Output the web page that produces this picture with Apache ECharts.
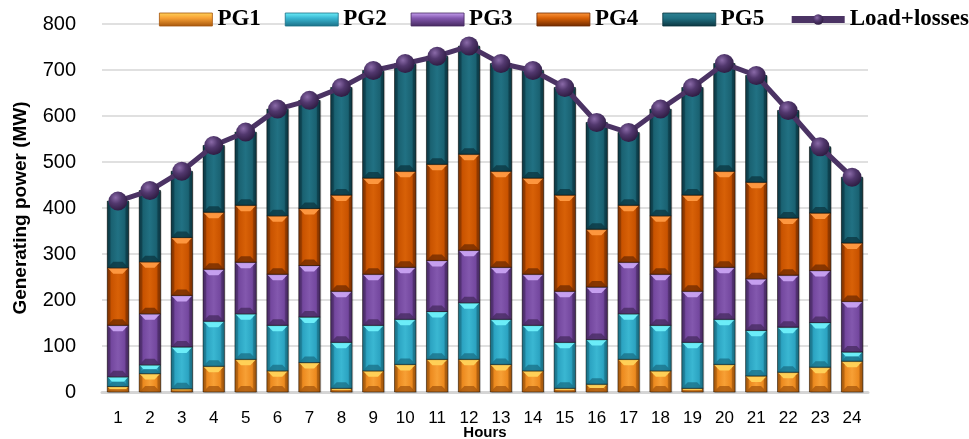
<!DOCTYPE html>
<html>
<head>
<meta charset="utf-8">
<title>Generating power schedule</title>
<script src="https://cdn.jsdelivr.net/npm/echarts@6/dist/echarts.min.js"></script>
<style>
  html, body { margin: 0; padding: 0; background: #ffffff; }
  #chart { width: 969px; height: 439px; }
</style>
</head>
<body>
<div id="chart"></div>
<script>
// Hourly dispatch of the five generating units (MW)
const hours = ['1','2','3','4','5','6','7','8','9','10','11','12',
               '13','14','15','16','17','18','19','20','21','22','23','24'];
const pg1 = [12, 40, 7, 56, 71, 46, 64, 8, 46, 60, 71, 71, 60, 46, 8, 17, 71, 46, 8, 60, 35, 43, 54, 67];
const pg2 = [21, 19, 91, 98, 99, 99, 99, 100, 99, 98, 104, 123, 98, 99, 100, 97, 99, 99, 100, 98, 99, 98, 97, 20];
const pg3 = [112, 111, 112, 113, 112, 111, 112, 111, 111, 113, 111, 114, 113, 111, 111, 114, 112, 111, 111, 113, 112, 113, 113, 110];
const pg4 = [125, 113, 126, 124, 124, 127, 124, 209, 209, 209, 209, 209, 209, 209, 209, 126, 124, 127, 209, 209, 210, 124, 125, 127];
const pg5 = [145, 155, 144, 145, 159, 232, 235, 234, 234, 234, 235, 235, 234, 234, 234, 232, 158, 232, 234, 234, 232, 234, 144, 143];
// Demand plus transmission losses (MW)
const loadLosses = [415, 438, 480, 536, 565, 615, 634, 662, 699, 714, 730, 752,
                    714, 699, 662, 586, 564, 615, 662, 714, 688, 612, 533, 467];
const yTicks = { min: 0, max: 800, interval: 100 };

const units = [
  { name: 'PG1', data: pg1, edge: '#a0550b', mid: '#ec8a1f', light: '#f7a035', top: '#ffd35a', bottom: '#a5560c' },
  { name: 'PG2', data: pg2, edge: '#196f85', mid: '#2ca4c2', light: '#3ab7d2', top: '#6ff0fa', bottom: '#1a6f86' },
  { name: 'PG3', data: pg3, edge: '#472a63', mid: '#74489f', light: '#8358ae', top: '#c9a3f2', bottom: '#45295f' },
  { name: 'PG4', data: pg4, edge: '#7e3200', mid: '#c95300', light: '#d86107', top: '#ff9a42', bottom: '#6e2a00' },
  { name: 'PG5', data: pg5, edge: '#0b3844', mid: '#1a6272', light: '#217183', top: '#2f8293', bottom: '#0b3640' }
];

// Stack the units: each item is [hour index, segment bottom, segment top]
const running = hours.map(() => 0);
units.forEach(u => {
  u.items = u.data.map((v, i) => {
    const base = running[i];
    running[i] = base + v;
    return [i, base, base + v];
  });
});

function bodyFill(u) {
  return new echarts.graphic.LinearGradient(0, 0, 1, 0, [
    { offset: 0, color: u.edge },
    { offset: 0.2, color: u.mid },
    { offset: 0.5, color: u.light },
    { offset: 0.8, color: u.mid },
    { offset: 1, color: u.edge }
  ]);
}
function keyFill(u) {
  return new echarts.graphic.LinearGradient(0, 0, 0, 1, [
    { offset: 0, color: u.top },
    { offset: 0.4, color: u.light },
    { offset: 1, color: u.bottom }
  ]);
}

// Bevelled column segment drawn through the axes
function bevelRenderer(u) {
  const fill = bodyFill(u);
  return function (params, api) {
    const idx = api.value(0);
    const pBase = api.coord([idx, api.value(1)]);
    const pTop = api.coord([idx, api.value(2)]);
    const w = api.size([1, 0])[0] * 0.67;
    const x0 = pBase[0] - w / 2, x1 = pBase[0] + w / 2;
    const yb = pBase[1], yt = pTop[1];
    const h = yb - yt;
    if (h <= 0) return null;
    const b = Math.min(6, h / 2, w / 2);
    return {
      type: 'group',
      children: [
        { type: 'rect', shape: { x: x0 + 1.2, y: yt + 1, width: w, height: h },
          style: { fill: 'rgba(0,0,0,0.16)' } },
        { type: 'rect', shape: { x: x0, y: yt, width: w, height: h },
          style: { fill: fill } },
        { type: 'polygon', shape: { points: [[x0, yt], [x1, yt], [x1 - b, yt + b], [x0 + b, yt + b]] },
          style: { fill: u.top, opacity: 0.95 } },
        { type: 'polygon', shape: { points: [[x0, yb], [x1, yb], [x1 - b, yb - b], [x0 + b, yb - b]] },
          style: { fill: u.bottom, opacity: 0.75 } },
        { type: 'polygon', shape: { points: [[x0, yt], [x0 + b * 0.5, yt + b * 0.5], [x0 + b * 0.5, yb - b * 0.5], [x0, yb]] },
          style: { fill: u.edge, opacity: 0.5 } },
        { type: 'polygon', shape: { points: [[x1, yt], [x1 - b * 0.5, yt + b * 0.5], [x1 - b * 0.5, yb - b * 0.5], [x1, yb]] },
          style: { fill: u.edge, opacity: 0.6 } },
        { type: 'rect', shape: { x: x0, y: yt, width: w, height: h },
          style: { fill: null, stroke: 'rgba(15,8,0,0.6)', lineWidth: 0.8 } }
      ]
    };
  };
}

const series = units.map(u => ({
  name: u.name,
  type: 'custom',
  renderItem: bevelRenderer(u),
  data: u.items,
  encode: { x: 0, y: [1, 2] },
  itemStyle: { color: u.mid },
  emphasis: { disabled: true }
}));

series.push({
  name: 'Load+losses',
  type: 'line',
  data: loadLosses,
  z: 5,
  symbol: 'circle',
  symbolSize: 19,
  lineStyle: { color: '#4b3364', width: 5 },
  itemStyle: {
    color: new echarts.graphic.RadialGradient(0.38, 0.32, 0.7, [
      { offset: 0, color: '#8a6aa8' },
      { offset: 0.45, color: '#52386e' },
      { offset: 1, color: '#2e1c42' }
    ]),
    borderWidth: 0
  },
  emphasis: { disabled: true }
});

const legendData = units.map(u => ({
  name: u.name,
  icon: 'rect',
  itemStyle: { color: keyFill(u), borderColor: u.bottom, borderWidth: 0.8 }
}));
legendData.push({ name: 'Load+losses', lineStyle: { width: 7, color: '#4b3364' } });

const chart = echarts.init(document.getElementById('chart'), null, { renderer: 'canvas' });
chart.setOption({
  animation: false,
  backgroundColor: '#ffffff',
  grid: { left: 102, right: 101, top: 24, bottom: 47, containLabel: false, outerBoundsMode: 'none' },
  legend: {
    data: legendData,
    left: 159,
    top: 8,
    width: 900,
    padding: 0,
    itemWidth: 53,
    itemHeight: 13,
    itemGap: 24,
    textStyle: {
      fontFamily: 'Liberation Serif',
      fontWeight: 'bold',
      fontSize: 23,
      color: '#000000'
    }
  },
  xAxis: {
    type: 'category',
    data: hours,
    name: 'Hours',
    nameLocation: 'middle',
    nameGap: 33,
    nameMoveOverlap: false,
    nameTextStyle: { fontFamily: 'Liberation Sans', fontWeight: 'bold', fontSize: 15, color: '#000' },
    axisTick: { show: false },
    axisLine: { lineStyle: { color: '#d5d5d5', width: 3 } },
    axisLabel: { fontFamily: 'Liberation Sans', fontSize: 17, color: '#000', margin: 18 }
  },
  yAxis: {
    type: 'value',
    min: yTicks.min,
    max: yTicks.max,
    interval: yTicks.interval,
    name: 'Generating power (MW)',
    nameLocation: 'middle',
    nameGap: 72,
    nameMoveOverlap: false,
    nameTextStyle: { fontFamily: 'Liberation Sans', fontWeight: 'bold', fontSize: 19, color: '#000' },
    axisLine: { show: false },
    axisTick: { show: false },
    axisLabel: { fontFamily: 'Liberation Sans', fontSize: 20, color: '#000', margin: 26 },
    splitLine: { lineStyle: { color: '#d6d6d6', width: 1.5 } }
  },
  series: series
});
</script>
</body>
</html>
